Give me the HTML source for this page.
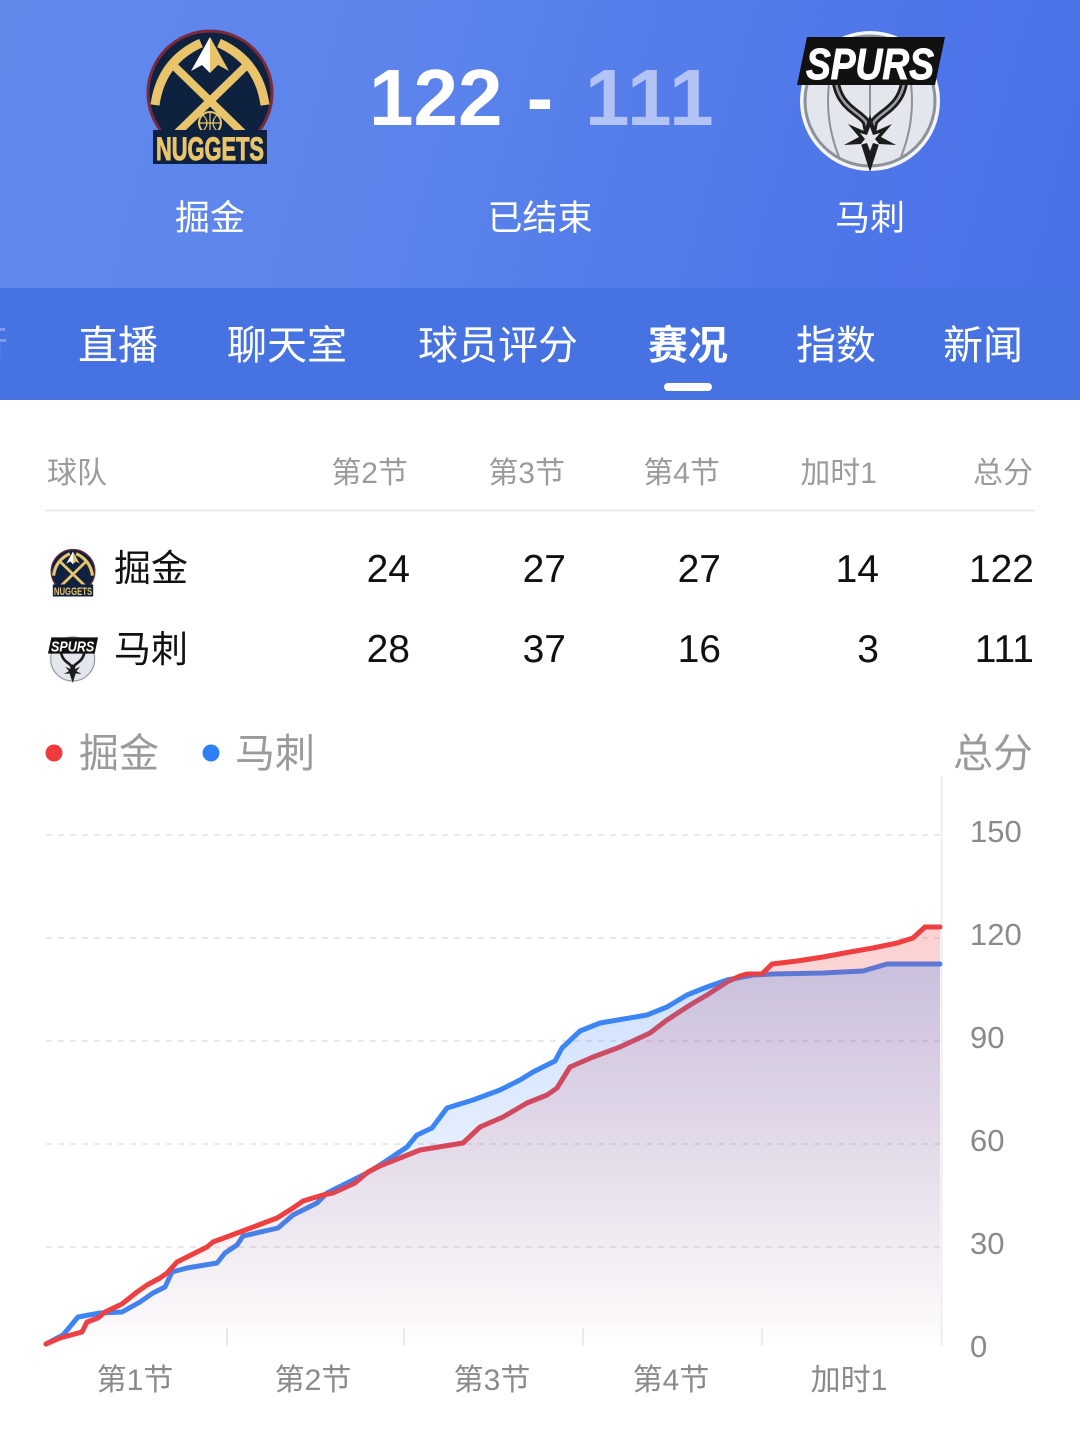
<!DOCTYPE html>
<html><head><meta charset="utf-8">
<style>
html,body{margin:0;padding:0;background:#fff;}
body{width:1080px;height:1452px;position:relative;overflow:hidden;font-family:"Liberation Sans","Noto Sans CJK SC",sans-serif;}
#hdr{position:absolute;left:0;top:0;width:1080px;height:288px;background:linear-gradient(105deg,#6189ec 0%,#5b83eb 40%,#5179e9 70%,#4a70e8 100%);}
#tabs{position:absolute;left:0;top:288px;width:1080px;height:112px;background:#4672e2;}
svg{position:absolute;left:0;top:0;}
</style></head><body>
<div id="hdr"></div>
<div id="tabs"></div>
<svg width="1080" height="1452" viewBox="0 0 1080 1452" xmlns="http://www.w3.org/2000/svg" font-family="Liberation Sans, Noto Sans CJK SC, sans-serif">
<defs>
<linearGradient id="gr" gradientUnits="userSpaceOnUse" x1="0" y1="925" x2="0" y2="1345">
<stop offset="0" stop-color="#f03c3c" stop-opacity="0.24"/>
<stop offset="1" stop-color="#f03c3c" stop-opacity="0.01"/>
</linearGradient>
<linearGradient id="gb" gradientUnits="userSpaceOnUse" x1="0" y1="925" x2="0" y2="1345">
<stop offset="0" stop-color="#3b82f6" stop-opacity="0.28"/>
<stop offset="1" stop-color="#3b82f6" stop-opacity="0.0"/>
</linearGradient>
</defs>

<!-- Nuggets logo big -->
<g transform="translate(145,27)">
<circle cx="65" cy="66" r="62" fill="#0e2240" stroke="#7b2a3a" stroke-width="3"/>
<path d="M10,78 Q16,34 56,16" stroke="#e9c46a" stroke-width="9" fill="none"/>
<path d="M120,78 Q114,34 74,16" stroke="#e9c46a" stroke-width="9" fill="none"/>
<line x1="26" y1="36" x2="104" y2="112" stroke="#e9c46a" stroke-width="8"/>
<line x1="104" y1="36" x2="26" y2="112" stroke="#e9c46a" stroke-width="8"/>
<polygon points="65,10 46,44 57,38 65,46" fill="#ffffff"/>
<polygon points="65,10 84,44 73,38 65,46" fill="#e9c46a"/>
<circle cx="65" cy="96" r="11" fill="none" stroke="#e9c46a" stroke-width="2"/>
<path d="M54,96 H76 M65,85 V107 M58,88 Q66,96 58,104 M72,88 Q64,96 72,104" stroke="#e9c46a" stroke-width="1.2" fill="none"/>
<rect x="8" y="103" width="114" height="34" fill="#0e2240"/>
<text x="65" y="133" text-anchor="middle" font-size="32" font-weight="bold" fill="#e9c46a" stroke="#e9c46a" stroke-width="1" textLength="108" lengthAdjust="spacingAndGlyphs">NUGGETS</text>
</g>

<!-- Spurs logo big -->
<g transform="translate(797,27)">
<circle cx="73" cy="74" r="70" fill="#f4f5f8"/>
<circle cx="73" cy="74" r="65" fill="#e3e6ec" stroke="#8d9299" stroke-width="3"/>
<path d="M73,9 V139 M42,18 Q20,74 42,130 M104,18 Q126,74 104,130" stroke="#8d9299" stroke-width="2" fill="none"/>
<path d="M38,45 C38,80 62,84 69,95 L73,116 L77,95 C84,84 108,80 108,45" stroke="#1c1c1c" stroke-width="8" fill="none"/>
<path d="M38,45 C38,80 62,84 69,95 L73,116 L77,95 C84,84 108,80 108,45" stroke="#9aa0a8" stroke-width="2.5" fill="none"/>
<polygon points="73,88 79,104 95,97 84,110 99,118 82,117 73,145 64,117 47,118 62,110 51,97 67,104" fill="#1c1c1c"/>
<polygon points="73,100 76,108 83,106 78,112 83,118 76,116 73,124 70,116 63,118 68,112 63,106 70,108" fill="#e3e6ec"/>
<polygon points="0,58 10,10 148,10 138,58" fill="#111"/>
<text x="73" y="52" text-anchor="middle" font-size="44" font-weight="bold" font-style="italic" fill="#ffffff" stroke="#ffffff" stroke-width="1" textLength="128" lengthAdjust="spacingAndGlyphs">SPURS</text>
</g>

<!-- score -->
<text x="369" y="125" font-size="80" font-weight="bold" fill="#ffffff">122</text>
<text x="540" y="125" font-size="80" font-weight="bold" fill="#ffffff" text-anchor="middle">-</text>
<text x="585" y="125" font-size="80" font-weight="bold" fill="#b3c3f6" letter-spacing="2">111</text>

<text x="210" y="230" font-size="35" fill="#ffffff" text-anchor="middle">掘金</text>
<text x="540" y="230" font-size="35" fill="#ffffff" text-anchor="middle">已结束</text>
<text x="870" y="230" font-size="35" fill="#ffffff" text-anchor="middle">马刺</text>

<!-- tabs -->
<text x="-32" y="359" font-size="40" fill="#ffffff" fill-opacity="0.3">行</text>
<text x="118" y="359" font-size="40" fill="#ffffff" text-anchor="middle">直播</text>
<text x="287" y="359" font-size="40" fill="#ffffff" text-anchor="middle">聊天室</text>
<text x="498" y="359" font-size="40" fill="#ffffff" text-anchor="middle">球员评分</text>
<text x="688" y="359" font-size="40" fill="#ffffff" text-anchor="middle" font-weight="bold">赛况</text>
<text x="836" y="359" font-size="40" fill="#ffffff" text-anchor="middle">指数</text>
<text x="983" y="359" font-size="40" fill="#ffffff" text-anchor="middle">新闻</text>
<rect x="664" y="383" width="48" height="8" rx="4" fill="#ffffff"/>

<!-- table -->
<g font-size="30" fill="#9b9b9b">
<text x="47" y="483">球队</text>
<text x="408" y="483" text-anchor="end">第2节</text>
<text x="565" y="483" text-anchor="end">第3节</text>
<text x="720" y="483" text-anchor="end">第4节</text>
<text x="877" y="483" text-anchor="end">加时1</text>
<text x="1033" y="483" text-anchor="end">总分</text>
</g>
<line x1="45" y1="510.5" x2="1035" y2="510.5" stroke="#e6e6e6" stroke-width="1.5"/>

<!-- small nuggets -->
<g transform="translate(50,548) scale(0.354)">
<circle cx="65" cy="66" r="62" fill="#0e2240" stroke="#7b2a3a" stroke-width="3"/>
<path d="M10,78 Q16,34 56,16" stroke="#e9c46a" stroke-width="9" fill="none"/>
<path d="M120,78 Q114,34 74,16" stroke="#e9c46a" stroke-width="9" fill="none"/>
<line x1="26" y1="36" x2="104" y2="112" stroke="#e9c46a" stroke-width="8"/>
<line x1="104" y1="36" x2="26" y2="112" stroke="#e9c46a" stroke-width="8"/>
<polygon points="65,10 46,44 57,38 65,46" fill="#ffffff"/>
<polygon points="65,10 84,44 73,38 65,46" fill="#e9c46a"/>
<rect x="8" y="103" width="114" height="34" fill="#0e2240"/>
<text x="65" y="133" text-anchor="middle" font-size="32" font-weight="bold" fill="#e9c46a" textLength="108" lengthAdjust="spacingAndGlyphs">NUGGETS</text>
</g>
<!-- small spurs -->
<g transform="translate(48,634) scale(0.338)">
<circle cx="73" cy="74" r="70" fill="#f4f5f8"/>
<circle cx="73" cy="74" r="65" fill="#e3e6ec" stroke="#8d9299" stroke-width="3"/>
<path d="M38,45 C38,80 62,84 69,95 L73,116 L77,95 C84,84 108,80 108,45" stroke="#1c1c1c" stroke-width="8" fill="none"/>
<polygon points="73,88 79,104 95,97 84,110 99,118 82,117 73,145 64,117 47,118 62,110 51,97 67,104" fill="#1c1c1c"/>
<polygon points="0,58 10,10 148,10 138,58" fill="#111"/>
<text x="73" y="52" text-anchor="middle" font-size="44" font-weight="bold" font-style="italic" fill="#ffffff" textLength="128" lengthAdjust="spacingAndGlyphs">SPURS</text>
</g>

<g font-size="37" fill="#111">
<text x="114" y="581">掘金</text>
<text x="114" y="662">马刺</text>
</g>
<g font-size="39" fill="#111" text-anchor="end">
<text x="410" y="582">24</text>
<text x="566" y="582">27</text>
<text x="721" y="582">27</text>
<text x="879" y="582">14</text>
<text x="1034" y="582">122</text>
<text x="410" y="662">28</text>
<text x="566" y="662">37</text>
<text x="721" y="662">16</text>
<text x="879" y="662">3</text>
<text x="1034" y="662">111</text>
</g>

<!-- legend -->
<circle cx="54" cy="753" r="8.5" fill="#ef3b3b"/>
<text x="79" y="767" font-size="40" fill="#9a9a9a">掘金</text>
<circle cx="211" cy="753" r="8.5" fill="#2f80f5"/>
<text x="235" y="767" font-size="40" fill="#9a9a9a">马刺</text>
<text x="1033" y="767" font-size="40" fill="#9a9a9a" text-anchor="end">总分</text>

<!-- grid -->
<g stroke="#e2e2e2" stroke-width="1.5" stroke-dasharray="6 6">
<line x1="46" y1="835" x2="940" y2="835"/>
<line x1="46" y1="938" x2="940" y2="938"/>
<line x1="46" y1="1041" x2="940" y2="1041"/>
<line x1="46" y1="1144" x2="940" y2="1144"/>
<line x1="46" y1="1247" x2="940" y2="1247"/>
</g>
<line x1="941.5" y1="776" x2="941.5" y2="1346" stroke="#eeeeee" stroke-width="2"/>
<g stroke="#ececec" stroke-width="2">
<line x1="227" y1="1328" x2="227" y2="1346"/>
<line x1="404" y1="1328" x2="404" y2="1346"/>
<line x1="583" y1="1328" x2="583" y2="1346"/>
<line x1="762" y1="1328" x2="762" y2="1346"/>
</g>

<!-- lines -->
<polyline fill="none" stroke="#3c85f4" stroke-width="5" stroke-linejoin="round" stroke-linecap="round" points="46,1344 63,1335 78,1317 100,1313 122,1312 140,1302 153,1293 165,1287 172,1272 187,1268 217,1263 225,1253 237,1245 243,1236 278,1228 293,1215 317,1203 327,1193 347,1183 367,1173 380,1165 407,1147 417,1135 432,1128 447,1108 473,1100 500,1090 520,1080 533,1072 555,1061 562,1048 580,1031 600,1023 647,1015 667,1007 687,995 707,987 727,980 753,975 773,974 823,973 863,971 887,964 940,964"/>
<polyline fill="none" stroke="#ee3f41" stroke-width="5" stroke-linejoin="round" stroke-linecap="round" points="46,1344 60,1338 82,1332 87,1322 98,1318 105,1312 122,1304 137,1292 147,1285 160,1278 167,1273 177,1262 207,1247 213,1242 240,1232 277,1218 293,1208 303,1201 323,1195 333,1193 355,1183 368,1172 380,1166 420,1150 463,1143 480,1127 503,1117 527,1103 547,1095 557,1088 570,1067 593,1057 620,1047 650,1033 667,1020 690,1005 707,995 727,982 740,976 747,974 762,974 772,964 797,961 823,957 850,952 873,948 897,943 913,938 925,927 940,927"/>
<!-- fills -->
<polygon fill="url(#gr)" points="46,1344 60,1338 82,1332 87,1322 98,1318 105,1312 122,1304 137,1292 147,1285 160,1278 167,1273 177,1262 207,1247 213,1242 240,1232 277,1218 293,1208 303,1201 323,1195 333,1193 355,1183 368,1172 380,1166 420,1150 463,1143 480,1127 503,1117 527,1103 547,1095 557,1088 570,1067 593,1057 620,1047 650,1033 667,1020 690,1005 707,995 727,982 740,976 747,974 762,974 772,964 797,961 823,957 850,952 873,948 897,943 913,938 925,927 940,927 940,1345 46,1345"/>
<polygon fill="url(#gb)" points="46,1344 63,1335 78,1317 100,1313 122,1312 140,1302 153,1293 165,1287 172,1272 187,1268 217,1263 225,1253 237,1245 243,1236 278,1228 293,1215 317,1203 327,1193 347,1183 367,1173 380,1165 407,1147 417,1135 432,1128 447,1108 473,1100 500,1090 520,1080 533,1072 555,1061 562,1048 580,1031 600,1023 647,1015 667,1007 687,995 707,987 727,980 753,975 773,974 823,973 863,971 887,964 940,964 940,1345 46,1345"/>

<!-- y labels -->
<g font-size="31" fill="#8a8a8a">
<text x="970" y="842">150</text>
<text x="970" y="945">120</text>
<text x="970" y="1048">90</text>
<text x="970" y="1151">60</text>
<text x="970" y="1254">30</text>
<text x="970" y="1357">0</text>
</g>
<!-- x labels -->
<g font-size="30" fill="#8a8a8a" text-anchor="middle">
<text x="135" y="1390">第1节</text>
<text x="313" y="1390">第2节</text>
<text x="492" y="1390">第3节</text>
<text x="671" y="1390">第4节</text>
<text x="849" y="1390">加时1</text>
</g>
</svg>
</body></html>
